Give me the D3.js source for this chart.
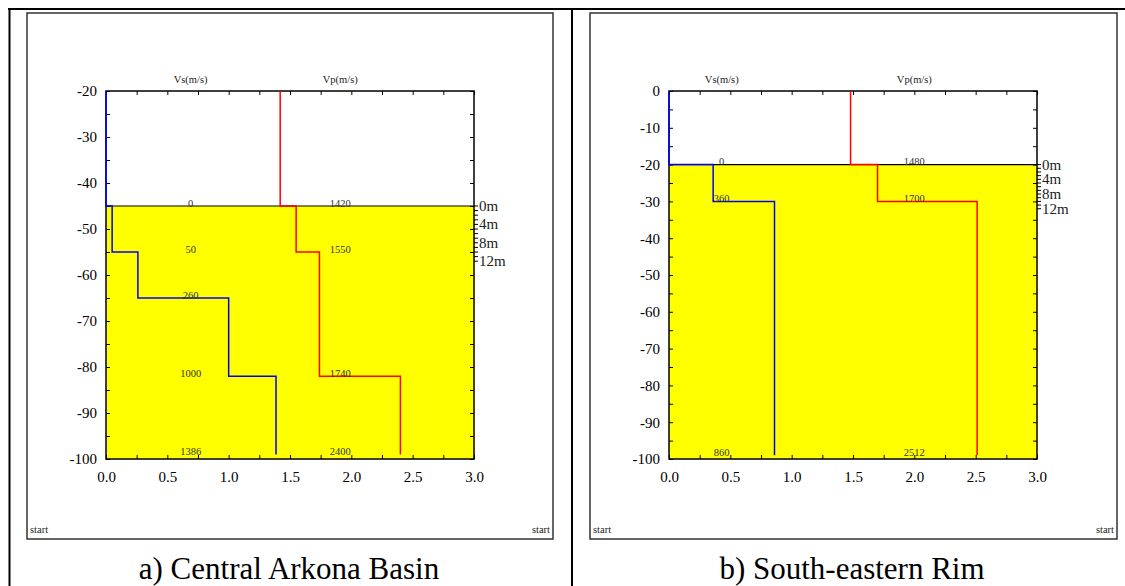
<!DOCTYPE html>
<html>
<head>
<meta charset="utf-8">
<script src="https://cdn.jsdelivr.net/npm/d3@7"></script>
<style>
  html, body { margin: 0; padding: 0; background: #fff; }
  svg { display: block; }
  svg text { font-family: "Liberation Serif", "Times New Roman", Tinos, "DejaVu Serif", serif !important; }
</style>
</head>
<body>
<svg id="chart" width="1125" height="586"></svg>
<script>
// ---------- data ----------
const xTickValues = [0, 0.5, 1.0, 1.5, 2.0, 2.5, 3.0];
const xTickLabels = ["0.0", "0.5", "1.0", "1.5", "2.0", "2.5", "3.0"];
const scaleMeters = [0, 4, 8, 12];

// panel a) Central Arkona Basin
const aCaption = "a) Central Arkona Basin";
const aYDomain = [-20, -100];
const aYTicks = [-20, -30, -40, -50, -60, -70, -80, -90, -100];
const aSeabed = -45;
const aVsValues = [0, 0.05, 0.26, 1.0, 1.386];
const aVsDepths = [-20, -45, -55, -65, -82, -99];
const aVpValues = [1.42, 1.55, 1.74, 2.4];
const aVpDepths = [-20, -45, -55, -82, -99];

// panel b) South-eastern Rim
const bCaption = "b) South-eastern Rim";
const bYDomain = [0, -100];
const bYTicks = [0, -10, -20, -30, -40, -50, -60, -70, -80, -90, -100];
const bSeabed = -20;
const bVsValues = [0, 0.36, 0.86];
const bVsDepths = [0, -20, -30, -99];
const bVpValues = [1.48, 1.7, 2.512];
const bVpDepths = [0, -20, -30, -99];

// ---------- drawing ----------
const svg = d3.select("#chart");
const serif = "Liberation Serif, Times New Roman, DejaVu Serif, serif";

// outer table lines
svg.append("line").attr("x1", 8).attr("x2", 1125).attr("y1", 9).attr("y2", 9)
  .attr("stroke", "#000").attr("stroke-width", 2);
svg.append("line").attr("x1", 9.5).attr("x2", 9.5).attr("y1", 8).attr("y2", 586)
  .attr("stroke", "#000").attr("stroke-width", 2);
svg.append("line").attr("x1", 572).attr("x2", 572).attr("y1", 8).attr("y2", 586)
  .attr("stroke", "#000").attr("stroke-width", 2);

function drawPanel(cfg) {
  const g = svg.append("g");
  // inner frame
  g.append("rect").attr("x", cfg.fx).attr("y", 13).attr("width", cfg.fw).attr("height", 526)
    .attr("fill", "#fff").attr("stroke", "#333").attr("stroke-width", 1.5);
  g.append("text").attr("x", cfg.fx + 3).attr("y", 533).text("start")
    .style("font-family", serif).attr("font-size", 10.5).attr("fill", "#222");
  g.append("text").attr("x", cfg.fx + cfg.fw - 3).attr("y", 533).text("start")
    .attr("text-anchor", "end")
    .style("font-family", serif).attr("font-size", 10.5).attr("fill", "#222");
  // caption
  g.append("text").attr("x", cfg.capX).attr("y", 579).text(cfg.caption)
    .attr("text-anchor", "middle").style("font-family", serif).attr("font-size", 31)
    .attr("fill", "#000");

  const x = d3.scaleLinear().domain([0, 3]).range([cfg.x0, cfg.x1]);
  const y = d3.scaleLinear().domain(cfg.yDomain).range([91, 459]);

  // sediment fill
  g.append("rect").attr("x", x(0)).attr("y", y(cfg.seabed))
    .attr("width", x(3) - x(0)).attr("height", y(cfg.yDomain[1]) - y(cfg.seabed))
    .attr("fill", "#ffff00");
  g.append("line").attr("x1", x(0)).attr("x2", x(3))
    .attr("y1", y(cfg.seabed)).attr("y2", y(cfg.seabed))
    .attr("stroke", "#000").attr("stroke-width", 1.2);

  // axes
  const minorX = d3.range(0, 3.0001, 0.25);
  const minorY = d3.range(cfg.yDomain[0], cfg.yDomain[1] - 0.001, -5);
  const axStyle = sel => {
    sel.attr("font-family", null);
    sel.select(".domain").remove();
    sel.selectAll("line").attr("stroke", "#000").attr("stroke-width", 1);
    sel.selectAll("text").style("font-family", serif).attr("font-size", 15).attr("fill", "#000");
  };
  g.append("g").attr("transform", `translate(0,${y(cfg.yDomain[1])})`)
    .call(d3.axisBottom(x).tickValues(minorX).tickSize(-4).tickFormat(""))
    .call(axStyle);
  g.append("g").attr("transform", `translate(0,${y(cfg.yDomain[1])})`)
    .call(d3.axisBottom(x).tickValues(xTickValues).tickSize(0).tickPadding(12)
      .tickFormat((d, i) => xTickLabels[i]))
    .call(axStyle);
  g.append("g").attr("transform", `translate(0,${y(cfg.yDomain[0])})`)
    .call(d3.axisTop(x).tickValues(minorX).tickSize(-4).tickFormat(""))
    .call(axStyle);
  g.append("g").attr("transform", `translate(${x(0)},0)`)
    .call(d3.axisLeft(y).tickValues(minorY).tickSize(-4).tickFormat(""))
    .call(axStyle);
  g.append("g").attr("transform", `translate(${x(0)},0)`)
    .call(d3.axisLeft(y).tickValues(cfg.yTicks).tickSize(0).tickPadding(9)
      .tickFormat(d => String(d).replace("\u2212", "-")))
    .call(axStyle);
  g.append("g").attr("transform", `translate(${x(3)},0)`)
    .call(d3.axisRight(y).tickValues(minorY).tickSize(-4).tickFormat(""))
    .call(axStyle);

  // frame
  g.append("rect").attr("x", x(0)).attr("y", y(cfg.yDomain[0]))
    .attr("width", x(3) - x(0)).attr("height", y(cfg.yDomain[1]) - y(cfg.yDomain[0]))
    .attr("fill", "none").attr("stroke", "#000").attr("stroke-width", 1.5);

  // depth scale bar on the right
  const meterTicks = d3.range(0, 12.001, 1);
  const sy = m => y(cfg.seabed - m);
  g.selectAll(".mtick").data(meterTicks).enter().append("line")
    .attr("x1", x(3)).attr("x2", x(3) + 4)
    .attr("y1", d => sy(d)).attr("y2", d => sy(d))
    .attr("stroke", "#000").attr("stroke-width", 1);
  g.selectAll(".mlab").data(scaleMeters).enter().append("text")
    .attr("x", x(3) + 5).attr("y", d => sy(d)).attr("dy", "0.33em")
    .text(d => d + "m")
    .style("font-family", serif).attr("font-size", 15).attr("fill", "#222");

  // column headers
  g.append("text").attr("x", x(cfg.vsLabelX)).attr("y", 83).text("Vs(m/s)")
    .attr("text-anchor", "middle").style("font-family", serif).attr("font-size", 10.5).attr("fill", "#222");
  g.append("text").attr("x", x(cfg.vpLabelX)).attr("y", 83).text("Vp(m/s)")
    .attr("text-anchor", "middle").style("font-family", serif).attr("font-size", 10.5).attr("fill", "#222");

  // step profiles
  const stepPts = (vals, depths) => {
    const pts = [];
    vals.forEach((v, i) => { pts.push([v, depths[i]]); pts.push([v, depths[i + 1]]); });
    return pts;
  };
  const line = d3.line().x(d => x(d[0])).y(d => y(d[1]));
  g.append("path").datum(stepPts(cfg.vp, cfg.vpD)).attr("d", line)
    .attr("fill", "none").attr("stroke", "#ff0000").attr("stroke-width", 1.5);
  g.append("path").datum(stepPts(cfg.vs, cfg.vsD)).attr("d", line)
    .attr("fill", "none").attr("stroke", "#0000ff").attr("stroke-width", 1.5);

  // value labels (layer velocity at its lower boundary)
  const labs = (vals, depths, lx) => {
    g.selectAll(null).data(vals).enter().append("text")
      .attr("x", x(lx)).attr("y", (d, i) => y(depths[i + 1]) + 0.5)
      .attr("text-anchor", "middle")
      .text(d => Math.round(d * 1000))
      .style("font-family", serif).attr("font-size", 10.5).attr("fill", "#333");
  };
  labs(cfg.vs, cfg.vsD, cfg.vsLabelX);
  labs(cfg.vp, cfg.vpD, cfg.vpLabelX);
}

drawPanel({
  fx: 27, fw: 526, capX: 289, caption: aCaption,
  x0: 106, x1: 474, yDomain: aYDomain, yTicks: aYTicks, seabed: aSeabed,
  vs: aVsValues, vsD: aVsDepths, vp: aVpValues, vpD: aVpDepths,
  vsLabelX: 0.69, vpLabelX: 1.91
});
drawPanel({
  fx: 590, fw: 527, capX: 852, caption: bCaption,
  x0: 669, x1: 1037, yDomain: bYDomain, yTicks: bYTicks, seabed: bSeabed,
  vs: bVsValues, vsD: bVsDepths, vp: bVpValues, vpD: bVpDepths,
  vsLabelX: 0.43, vpLabelX: 2.0
});
</script>
</body>
</html>
